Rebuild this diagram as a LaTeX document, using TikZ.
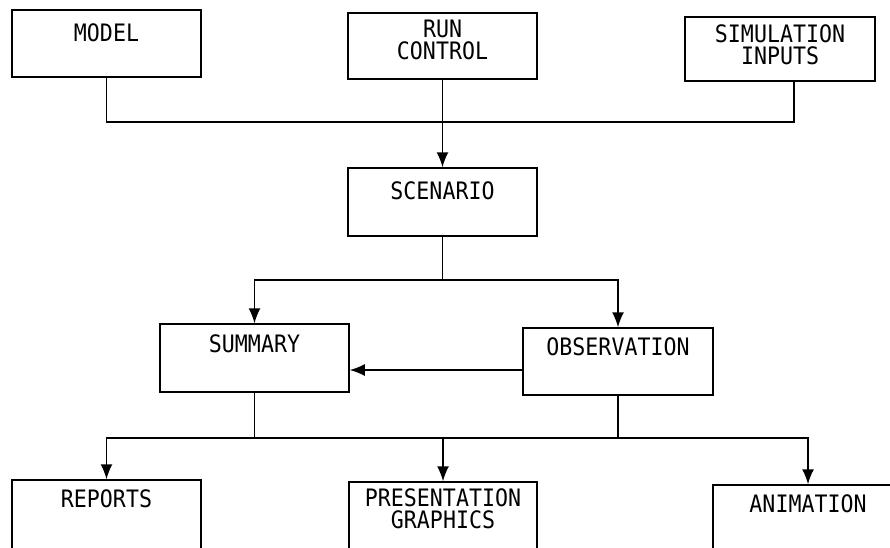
\documentclass[tikz,border=0pt]{standalone}
\usepackage{fontspec}
\newfontfamily\lblfont[FakeStretch=0.9]{DejaVu Sans Mono}
\usetikzlibrary{arrows.meta}
\begin{document}
\begin{tikzpicture}[x=1pt,y=-1pt,
  box/.style={draw, line width=1.5pt, rectangle, minimum width=189pt, minimum height=67pt, inner sep=0pt},
  lbl/.style={anchor=north, align=center, inner sep=0pt, font=\lblfont\fontsize{24}{22}\selectfont},
  conn/.style={line width=1.5pt},
  arr/.style={conn, -{Latex[length=15pt,width=12pt]}}]
\useasboundingbox (0,0) rectangle (890,547);
\clip (0,0) rectangle (890,547);
\fill[white] (0,0) rectangle (890,547);
% boxes
\node[box] (model) at (106.5,43.5) {};
\node[box, minimum height=66pt] (run) at (442.5,46) {};
\node[box, minimum width=190pt, minimum height=64pt] (sim) at (780,49) {};
\node[box, minimum height=68pt] (scen) at (442.5,202) {};
\node[box, minimum height=68pt] (summ) at (254.5,358) {};
\node[box, minimum width=190pt] (obs) at (618,361.5) {};
\node[box, minimum height=80pt] (rep) at (106.5,520) {};
\node[box, minimum width=188pt, minimum height=80pt] (pres) at (443,522) {};
\node[box, minimum width=190pt, minimum height=80pt] (anim) at (808,525) {};
% labels
\node[lbl] at ([yshift=-14pt]model.north) {MODEL};
\node[lbl] at ([yshift=-8pt]run.north) {RUN\\CONTROL};
\node[lbl] at ([yshift=-8pt]sim.north) {SIMULATION\\INPUTS};
\node[lbl] at ([yshift=-14pt]scen.north) {SCENARIO};
\node[lbl] at ([yshift=-11pt]summ.north) {SUMMARY};
\node[lbl] at ([yshift=-10pt]obs.north) {OBSERVATION};
\node[lbl] at ([yshift=-10pt]rep.north) {REPORTS};
\node[lbl] at ([yshift=-7pt]pres.north) {PRESENTATION\\GRAPHICS};
\node[lbl] at ([yshift=-10pt]anim.north) {ANIMATION};
% connectors top
\coordinate (tb) at (794,122);
\draw[conn] (model.south) |- (tb) -- (tb |- sim.south);
\draw[arr] (run.south) -- (scen.north);
% scenario split
\coordinate (j1) at (442.5,280);
\draw[conn] (scen.south) -- (j1);
\draw[arr] (j1) -| (summ.north);
\draw[arr] (j1) -| (obs.north);
% observation to summary
\coordinate (oa) at ([yshift=-8.5pt]obs.west);
\draw[arr] (oa) -- (oa -| summ.east);
% bottom bus
\coordinate (busL) at (106.5,438);
\coordinate (busR) at (808,438);
\draw[arr] (summ.south) |- (busL) -- (rep.north);
\draw[arr] (obs.south) |- (busR) -- (anim.north);
\draw[conn] (summ.south |- busL) -- (obs.south |- busL);
\draw[arr] (pres.north |- busL) -- (pres.north);
\end{tikzpicture}
\end{document}
